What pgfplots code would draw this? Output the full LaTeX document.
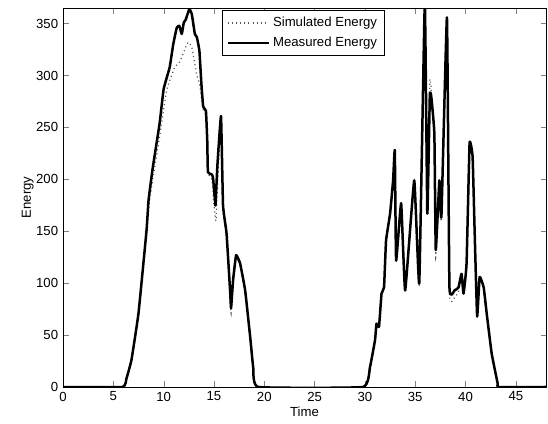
\documentclass[border=0pt]{standalone}
\usepackage{fontspec}
\setmainfont{Liberation Sans}
\usepackage{pgfplots}
\pgfplotsset{compat=1.18}
\begin{document}
\begin{tikzpicture}
\begin{axis}[
  name=ax,
  scale only axis,
  width=348pt, height=273pt,
  xmin=0, xmax=48, ymin=0, ymax=365,
  xtick={0,5,...,45}, ytick={0,50,...,350},
  tick pos=both, tick align=inside,
  major tick length=4pt,
  font=\fontsize{9.5}{11}\selectfont,
  /pgf/number format/assume math mode=true,
  xlabel={Time}, ylabel={Energy},
  xlabel style={yshift=3pt},
  ylabel style={yshift=-5pt},
  legend style={at={(0.497,0.995)}, anchor=north, draw=black, line width=0.5pt,
    font=\fontsize{9.5}{11}\selectfont, row sep=2pt, inner sep=3pt},
  legend cell align=left,
  legend image code/.code={\draw[#1] (0cm,0cm) -- (1.05cm,0cm);},
  axis line style={line width=0.5pt},
]
\addplot[black!65, line width=0.9pt, dash pattern=on 0.8pt off 2.2pt, smooth, tension=0.2] coordinates {
(0,0) (5.9,0) (6.3,8) (6.8,26) (7.5,71) (8.3,150) (8.6,180) (9.0,205) (9.65,244) (10.3,286)
(11.1,308) (11.6,313) (12.3,330) (12.5,332) (12.8,327) (13.1,311) (13.3,300) (13.6,290) (13.9,268)
(14.2,262) (14.35,235) (14.45,205) (14.8,200) (15.0,175) (15.2,160) (15.4,205) (15.7,255) (15.9,170)
(16.25,145) (16.6,88) (16.7,71) (16.9,100) (17.2,124) (17.6,117) (18.1,90) (18.6,46) (18.9,18) (19.4,0)
(29.8,0) (30.5,19) (31.0,45) (31.15,61) (31.4,58) (31.65,90) (31.9,96) (32.1,141) (32.5,167) (32.8,199)
(32.97,226) (33.1,120) (33.6,175) (34.0,91) (34.9,197) (35.4,98) (35.95,370) (36.2,170) (36.45,295)
(36.6,285) (36.9,240) (37.04,125) (37.4,197) (37.6,160) (38.15,352) (38.4,90) (38.9,86) (39.3,92)
(39.6,107) (39.8,88) (40.1,117) (40.4,232) (40.7,220) (40.9,149) (41.15,66) (41.4,104) (41.8,94)
(42.1,69) (42.6,31) (43.2,3) (43.3,0) (48,0)
};
\addlegendentry{Simulated Energy}
\addplot[black, line width=1.8pt, line join=round, smooth, tension=0.2] coordinates {
(0,0) (5.9,0) (6.3,8) (6.8,26) (7.5,71) (8.3,151) (8.5,180) (8.9,210) (9.6,254) (10.0,287)
(10.6,308) (10.95,330) (11.3,346) (11.55,348) (11.8,340) (12.0,351) (12.2,354) (12.55,364) (12.8,359)
(13.1,340) (13.3,337) (13.55,324) (13.75,292) (13.93,270) (14.2,266) (14.33,238) (14.4,207) (14.75,205)
(14.9,202) (15.1,180) (15.15,175) (15.35,215) (15.7,261) (15.9,175) (16.25,148) (16.6,93) (16.7,76)
(16.9,103) (17.2,127) (17.6,119) (18.1,93) (18.6,48) (18.9,19) (19.4,0)
(29.8,0) (30.5,19) (31.0,45) (31.15,61) (31.4,58) (31.65,90) (31.9,96) (32.1,141) (32.5,167) (32.8,199)
(32.97,228) (33.1,122) (33.6,177) (34.0,93) (34.9,199) (35.4,100) (35.95,370) (36.2,167) (36.45,281)
(36.6,279) (36.9,244) (37.04,132) (37.4,199) (37.6,164) (38.15,356) (38.4,96) (38.9,93) (39.3,96)
(39.6,109) (39.8,90) (40.1,119) (40.4,235) (40.7,222) (40.9,151) (41.15,68) (41.4,106) (41.8,96)
(42.1,71) (42.6,32) (43.2,3) (43.3,0) (48,0)
};
\addlegendentry{Measured Energy}
\end{axis}
\pgfresetboundingbox
\path ([xshift=-45.4pt,yshift=-26.6pt]ax.south west) rectangle ([xshift=1.4pt,yshift=5.8pt]ax.north east);
\end{tikzpicture}
\end{document}
